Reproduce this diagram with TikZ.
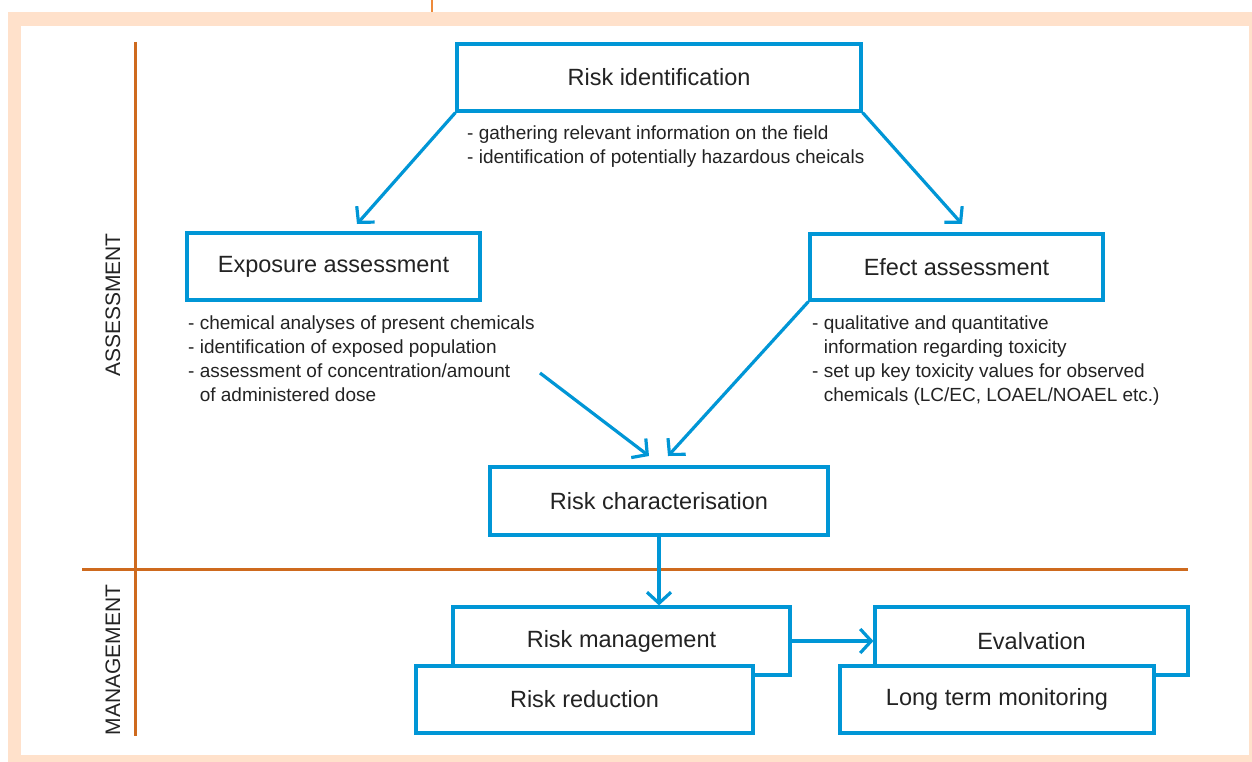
\documentclass[tikz,border=0pt]{standalone}
\usepackage{fontspec}
\setmainfont{Liberation Sans}
\usetikzlibrary{arrows.meta}
\definecolor{peach}{RGB}{255,225,203}
\definecolor{boxblue}{RGB}{0,150,214}
\definecolor{axisorange}{RGB}{206,106,30}
\definecolor{toporange}{RGB}{238,138,58}
\definecolor{txt}{RGB}{35,35,35}
\tikzset{
  box/.style={draw=boxblue, line width=3.2pt, fill=white, inner sep=0pt,
    text=txt, font=\fontsize{23.5}{28}\selectfont},
  note/.style={inner sep=0pt, text=txt, font=\fontsize{19}{24}\selectfont, anchor=west},
  flow/.style={draw=boxblue, line width=3.2pt, -{Straight Barb[length=11pt,width=24pt]}},
  axis/.style={draw=axisorange, line width=3pt},
  side/.style={text=txt, font=\fontsize{21}{24}\selectfont, rotate=90, inner sep=0pt}
}
\newcommand{\bl}[1]{\begin{tabular}{@{}l@{\ }l@{}}#1\end{tabular}}
\begin{document}
\begin{tikzpicture}[x=1pt,y=-1pt]
\useasboundingbox (0,0) rectangle (1252,762);
% frame
\fill[peach] (8,12) rectangle (1252,762);
\fill[white] (21,26) rectangle (1249,755);
\draw[toporange, line width=2pt] (432,0) -- (432,12);
% axes
\coordinate (vtop) at (135,42);
\coordinate (vbot) at (135,736);
\coordinate (hleft) at (82,569);
\coordinate (hright) at (1188,569);
\draw[axis] (vtop) -- (vbot);
\draw[axis] (hleft) -- (hright);
\node[side] (assess) at (113,305) {ASSESSMENT};
\node[side] (manage) at (113,660) {MANAGEMENT};
% boxes
\node[box, minimum width=404pt, minimum height=67pt] (ri) at (659,77.5) {Risk identification};
\node[box, minimum width=293pt, minimum height=67pt] (ex) at (333.5,266.5) {Exposure assessment};
\node[box, minimum width=293pt, minimum height=66pt] (ea) at (956.5,267) {Efect assessment};
\node[box, minimum width=338pt, minimum height=68pt] (rc) at (659,501) {Risk characterisation};
\node[box, minimum width=337pt, minimum height=68pt] (rm) at (621.5,641) {Risk management};
\node[box, minimum width=337pt, minimum height=67pt] (rr) at (584.5,699.5) {Risk reduction};
\node[box, minimum width=313pt, minimum height=68pt] (ev) at (1031.5,641) {Evalvation};
\node[box, minimum width=314pt, minimum height=67pt] (lt) at (997,699.5) {Long term monitoring};
% notes
\node[note] (n1) at (467,147) {\bl{- & gathering relevant information on the field\\- & identification of potentially hazardous cheicals}};
\node[note] (n2) at (188,360.5) {\bl{- & chemical analyses of present chemicals\\- & identification of exposed population\\- & assessment of concentration/amount\\ & of administered dose}};
\node[note] (n3) at (812,361) {\bl{- & qualitative and quantitative\\ & information regarding toxicity\\- & set up key toxicity values for observed\\ & chemicals (LC/EC, LOAEL/NOAEL etc.)}};
% connectors
\coordinate (a1) at (357,224);
\coordinate (a2) at (962,224);
\coordinate (s3) at (540,373);
\coordinate (a3) at (649,456);
\coordinate (a4) at (668,456);
\draw[flow] (ri.south west) -- (a1);
\draw[flow] (ri.south east) -- (a2);
\draw[flow] (s3) -- (a3);
\draw[flow] (ea.south west) -- (a4);
\draw[flow] (rc.south) -- (rc.south |- rm.north);
\draw[flow] (rm.east) -- (ev.west);
\end{tikzpicture}
\end{document}
